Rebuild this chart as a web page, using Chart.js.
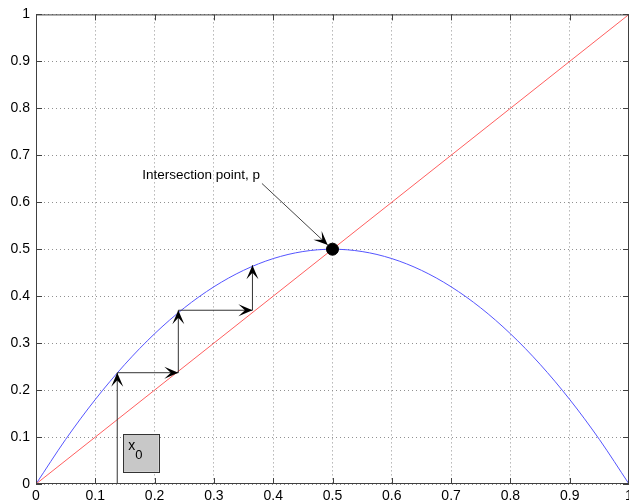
<!DOCTYPE html>
<html lang="en">
<head>
<meta charset="UTF-8">
<title>Cobweb plot</title>
<script src="https://cdn.jsdelivr.net/npm/chart.js"></script>
<style>
  html, body { margin: 0; padding: 0; overflow: hidden; background: #fff; }
  canvas { display: block; }
</style>
</head>
<body>
<canvas id="myChart" width="640" height="502"></canvas>
<script>
// tick labels
const xTicks = ['0','0.1','0.2','0.3','0.4','0.5','0.6','0.7','0.8','0.9','1'];
const yTicks = ['0','0.1','0.2','0.3','0.4','0.5','0.6','0.7','0.8','0.9','1'];

// blue curve
const curveX = [0,0.05,0.1,0.15,0.2,0.25,0.3,0.35,0.4,0.45,0.5,0.55,0.6,0.65,0.7,0.75,0.8,0.85,0.9,0.95,1];
const curveY = [0,0.095,0.18,0.255,0.32,0.375,0.42,0.455,0.48,0.495,0.5,0.495,0.48,0.455,0.42,0.375,0.32,0.255,0.18,0.095,0];

// red diagonal
const lineX = [0, 1];
const lineY = [0, 1];

// cobweb path (arrow at the end of every segment)
const cobX = [0.137, 0.137, 0.24, 0.24, 0.365, 0.365];
const cobY = [0, 0.237, 0.237, 0.37, 0.37, 0.466];

// intersection point and its label arrow
const pointX = [0.5];
const pointY = [0.5];
const noteText = 'Intersection point, p';
const noteX = [0.381, 0.492];
const noteY = [0.640, 0.509];
const noteTextPos = [0.179, 0.657];

// x0 box
const boxX = [0.147, 0.207];
const boxY = [0.026, 0.106];

function pts(xs, ys) {
    return xs.map((x, i) => ({x: x, y: ys[i]}));
}

function arrowHead(ctx, x1, y1, x2, y2) {
    const a = Math.atan2(y2 - y1, x2 - x1);
    const L = 14, W = 6, back = 7.5;
    ctx.save();
    ctx.translate(x2, y2);
    ctx.rotate(a);
    ctx.beginPath();
    ctx.moveTo(0, 0);
    ctx.lineTo(-L, -W);
    ctx.lineTo(-back, 0);
    ctx.lineTo(-L, W);
    ctx.closePath();
    ctx.fillStyle = '#000';
    ctx.fill();
    ctx.restore();
}

const extras = {
    id: 'extras',
    afterDraw(chart) {
        const ctx = chart.ctx;
        const xs = chart.scales.x, ys = chart.scales.y;
        const a = chart.chartArea;
        ctx.save();
        // frame
        ctx.strokeStyle = '#404040';
        ctx.lineWidth = 1;
        ctx.strokeRect(a.left + 0.5, a.top + 0.5, a.right - a.left - 1, a.bottom - a.top - 1);
        // inward ticks
        ctx.beginPath();
        xTicks.forEach((t, i) => {
            const px = Math.round(xs.getPixelForValue(i / 10)) + 0.5;
            ctx.moveTo(px, a.bottom); ctx.lineTo(px, a.bottom - 6);
            ctx.moveTo(px, a.top); ctx.lineTo(px, a.top + 6);
        });
        yTicks.forEach((t, i) => {
            const py = Math.round(ys.getPixelForValue(i / 10)) + 0.5;
            ctx.moveTo(a.left, py); ctx.lineTo(a.left + 6, py);
            ctx.moveTo(a.right, py); ctx.lineTo(a.right - 6, py);
        });
        ctx.stroke();

        // cobweb arrowheads
        for (let i = 1; i < cobX.length; i++) {
            arrowHead(ctx, xs.getPixelForValue(cobX[i - 1]), ys.getPixelForValue(cobY[i - 1]),
                xs.getPixelForValue(cobX[i]), ys.getPixelForValue(cobY[i]));
        }
        // note arrow
        arrowHead(ctx, xs.getPixelForValue(noteX[0]), ys.getPixelForValue(noteY[0]),
            xs.getPixelForValue(noteX[1]), ys.getPixelForValue(noteY[1]));
        ctx.fillStyle = '#000';
        ctx.font = '13.5px "Liberation Sans", Arial, sans-serif';
        ctx.textBaseline = 'middle';
        ctx.textAlign = 'left';
        ctx.fillText(noteText, xs.getPixelForValue(noteTextPos[0]), ys.getPixelForValue(noteTextPos[1]));

        // x0 box
        const bx = xs.getPixelForValue(boxX[0]), bx2 = xs.getPixelForValue(boxX[1]);
        const by = ys.getPixelForValue(boxY[1]), by2 = ys.getPixelForValue(boxY[0]);
        ctx.fillStyle = '#c8c8c8';
        ctx.fillRect(bx, by, bx2 - bx, by2 - by);
        ctx.strokeStyle = '#333';
        ctx.strokeRect(Math.round(bx) + 0.5, Math.round(by) + 0.5, Math.round(bx2 - bx), Math.round(by2 - by));
        ctx.fillStyle = '#000';
        ctx.font = '14px "Liberation Sans", Arial, sans-serif';
        ctx.fillText('x', bx + 5, by + 12);
        ctx.font = '13px "Liberation Sans", Arial, sans-serif';
        ctx.fillText('0', bx + 12, by + 21);
        ctx.restore();
    }
};

const data = {
    datasets: [
        {
            data: pts(lineX, lineY),
            showLine: true,
            borderColor: 'rgb(255,95,95)',
            borderWidth: 1,
            pointRadius: 0,
            order: 3
        },
        {
            data: pts(curveX, curveY),
            showLine: true,
            borderColor: 'rgb(85,85,255)',
            borderWidth: 1,
            pointRadius: 0,
            cubicInterpolationMode: 'monotone',
            order: 4
        },
        {
            data: pts(cobX, cobY),
            showLine: true,
            borderColor: '#333',
            borderWidth: 1,
            pointRadius: 0,
            order: 2
        },
        {
            data: pts(noteX, noteY),
            showLine: true,
            borderColor: '#444',
            borderWidth: 1,
            pointRadius: 0,
            order: 1
        },
        {
            data: pts(pointX, pointY),
            showLine: false,
            pointRadius: 6,
            pointBackgroundColor: '#000',
            pointBorderColor: '#000',
            order: 0
        }
    ]
};

const config = {
    type: 'scatter',
    data: data,
    options: {
        responsive: false,
        animation: false,
        layout: { padding: { top: 14, right: 11, left: 0, bottom: 0 } },
        plugins: { legend: { display: false }, tooltip: { enabled: false } },
        scales: {
            x: {
                type: 'linear', min: 0, max: 1,
                border: { display: false, dash: [1, 3] },
                grid: { color: '#909090', drawTicks: false },
                ticks: {
                    stepSize: 0.1, padding: 4, color: '#000',
                    font: { family: '"Liberation Sans", Arial, sans-serif', size: 14 },
                    callback: (v, i) => xTicks[i]
                },
                afterFit: (s) => { s.height = 18; }
            },
            y: {
                type: 'linear', min: 0, max: 1,
                border: { display: false, dash: [1, 3] },
                grid: { color: '#909090', drawTicks: false },
                ticks: {
                    stepSize: 0.1, padding: 6, color: '#000',
                    font: { family: '"Liberation Sans", Arial, sans-serif', size: 14 },
                    callback: (v, i) => yTicks[i]
                },
                afterFit: (s) => { s.width = 36; }
            }
        }
    },
    plugins: [extras]
};

const myChart = new Chart(document.getElementById('myChart'), config);
</script>
</body>
</html>
